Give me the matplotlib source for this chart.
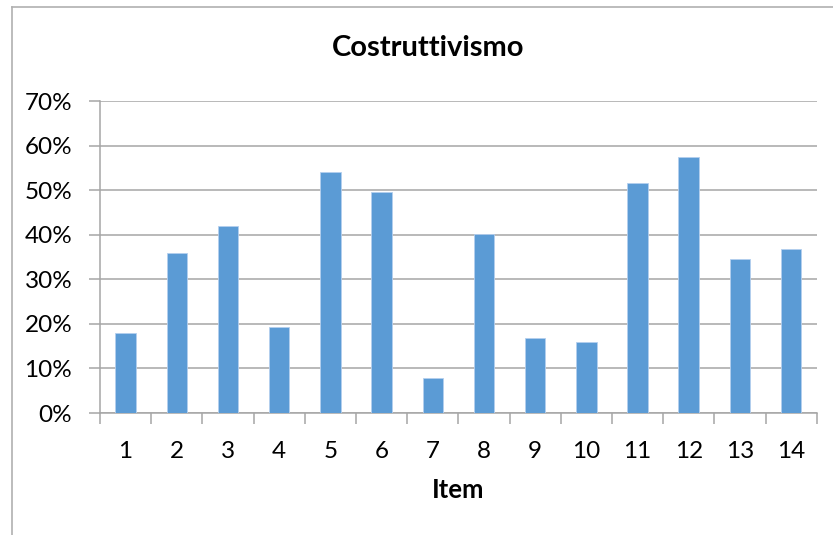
import matplotlib
matplotlib.use('Agg')
import matplotlib.pyplot as plt
from matplotlib.lines import Line2D
from matplotlib.ticker import PercentFormatter, FixedLocator
import numpy as np

plt.rcParams['font.family'] = ['Lato', 'DejaVu Sans']

items = [str(i) for i in range(1, 15)]
values = [17.9, 35.8, 41.9, 19.4, 54.1, 49.6, 7.8, 40.1, 16.8, 15.9, 51.6, 57.4, 34.5, 36.9]

fig = plt.figure(figsize=(8.33, 5.35), dpi=100)
ax = fig.add_axes([100/833, 1 - 413/535, 716.7/833, 312/535])

x = np.arange(1, len(items) + 1)
ax.bar(x, values, width=0.4, color='#5B9BD5', edgecolor='#B4CFEE', linewidth=0.6, zorder=3)

ax.set_xlim(0.5, len(items) + 0.5)
ax.set_ylim(0, 70)
ax.set_yticks(range(0, 71, 10))
ax.yaxis.set_major_formatter(PercentFormatter(decimals=0))
ax.grid(axis='y', color='#A6A6A6', linewidth=1.1, zorder=0)

ax.set_xticks(x)
ax.set_xticklabels(items)
ax.xaxis.set_minor_locator(FixedLocator(np.arange(0.5, len(items) + 1, 1)))
ax.tick_params(axis='x', which='major', length=0, pad=20, labelsize=17.5)
ax.tick_params(axis='x', which='minor', length=8, width=1.1, color='#A6A6A6', direction='out')
ax.tick_params(axis='y', length=8, width=1.1, color='#A6A6A6', direction='out', pad=12, labelsize=17.5)

for side in ['top', 'right']:
    ax.spines[side].set_visible(False)
ax.spines['left'].set_color('#A6A6A6')
ax.spines['bottom'].set_color('#A6A6A6')
ax.spines['left'].set_linewidth(1.1)
ax.spines['bottom'].set_linewidth(1.1)

fig.text(428/833, 1 - 48/535, 'Costruttivismo', ha='center', va='center', fontsize=21, fontweight='bold')
fig.text(458/833, 1 - 490/535, 'Item', ha='center', va='center', fontsize=18.5, fontweight='bold')

# chart area border (left and top visible)
fig.add_artist(Line2D([12/833, 12/833], [0, 1 - 7/535], transform=fig.transFigure, color='#B0B0B0', linewidth=1.2))
fig.add_artist(Line2D([12/833, 1], [1 - 7/535, 1 - 7/535], transform=fig.transFigure, color='#B0B0B0', linewidth=1.2))

fig.savefig('out.png', dpi=100)
